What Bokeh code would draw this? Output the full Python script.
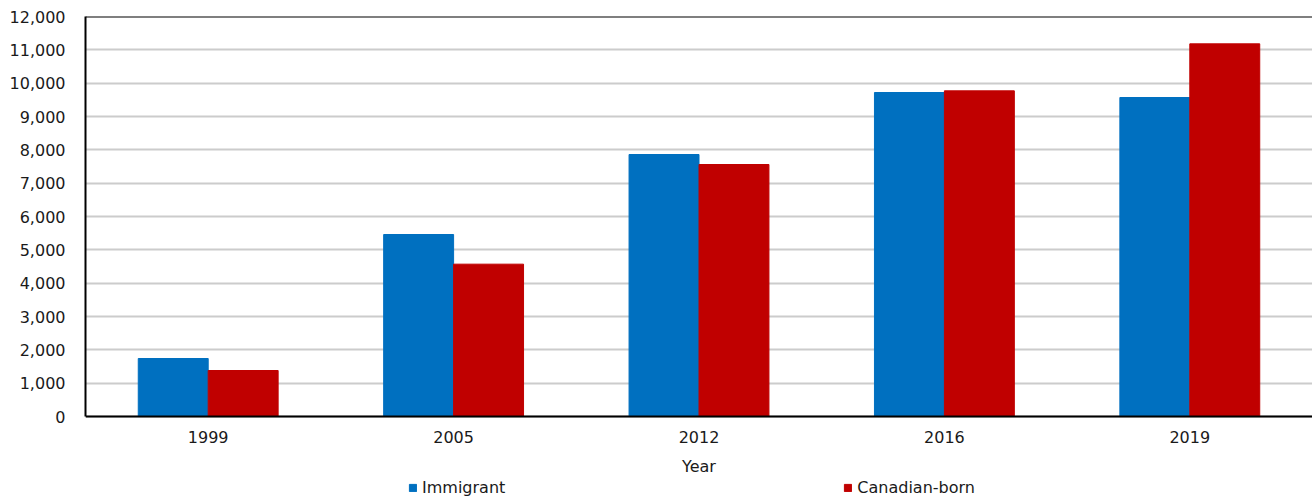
from bokeh.plotting import figure
from bokeh.models import Range1d, NumeralTickFormatter, FixedTicker, Span, Legend, LegendItem, ColumnDataSource
from bokeh.transform import dodge
from bokeh.embed import file_html
from bokeh.resources import INLINE

years = ["1999", "2005", "2012", "2016", "2019"]
immigrant = [1740, 5460, 7860, 9720, 9570]
canadian_born = [1380, 4570, 7560, 9770, 11180]
series_names = ["Immigrant", "Canadian-born"]
y_ticks = list(range(0, 12001, 1000))

FONT = "DejaVu Sans"
TXT = "#1a1a1a"

src = ColumnDataSource(dict(year=years, imm=immigrant, can=canadian_born))

# frame: 400 px for 0..12000, plus 84 px below the zero line for the axis labels and legend
p = figure(x_range=years, y_range=Range1d(-2520, 12000),
           frame_width=1227, frame_height=484,
           min_border_left=85, min_border_right=0, min_border_top=16, min_border_bottom=0,
           output_backend="svg", toolbar_location=None)
p.background_fill_color = "white"
p.border_fill_color = "white"
p.outline_line_color = None

r1 = p.vbar(x=dodge("year", -0.1425, range=p.x_range), top="imm", width=0.285, source=src,
            fill_color="#0070C0", line_color="#0070C0")
r2 = p.vbar(x=dodge("year", 0.1425, range=p.x_range), top="can", width=0.285, source=src,
            fill_color="#C00000", line_color="#C00000")

p.yaxis.ticker = FixedTicker(ticks=y_ticks)
p.yaxis.formatter = NumeralTickFormatter(format="0,0")
p.yaxis.bounds = (0, 12000)
p.xaxis.fixed_location = 0
for ax in (p.xaxis[0], p.yaxis[0]):
    ax.axis_line_color = "black"
    ax.axis_line_width = 2
    ax.major_tick_line_color = None
    ax.minor_tick_line_color = None
    ax.major_tick_out = 0
    ax.major_tick_in = 0
    ax.major_label_text_font = FONT
    ax.major_label_text_font_size = "16px"
    ax.major_label_text_color = TXT
p.yaxis.major_label_standoff = 20
p.xaxis.major_label_standoff = 14
p.xaxis.axis_label = "Year"
p.xaxis.axis_label_text_font = FONT
p.xaxis.axis_label_text_font_size = "16px"
p.xaxis.axis_label_text_font_style = "normal"
p.xaxis.axis_label_text_color = TXT
p.xaxis.axis_label_standoff = 11

p.xgrid.grid_line_color = None
p.ygrid.grid_line_color = "#cccccc"
p.ygrid.grid_line_width = 2

p.add_layout(Span(location=12000, dimension="width", line_color="black", line_width=2))

legend = Legend(items=[LegendItem(label=series_names[0], renderers=[r1]),
                       LegendItem(label=series_names[1], renderers=[r2])],
                orientation="horizontal", location=(323, 3),
                glyph_width=9, glyph_height=9, label_standoff=5, spacing=338,
                label_height=16, padding=0, margin=0, border_line_color=None,
                background_fill_alpha=0,
                label_text_font=FONT, label_text_font_size="16px", label_text_color=TXT)
p.add_layout(legend, "center")

open("out.html", "w").write(file_html(p, INLINE))
